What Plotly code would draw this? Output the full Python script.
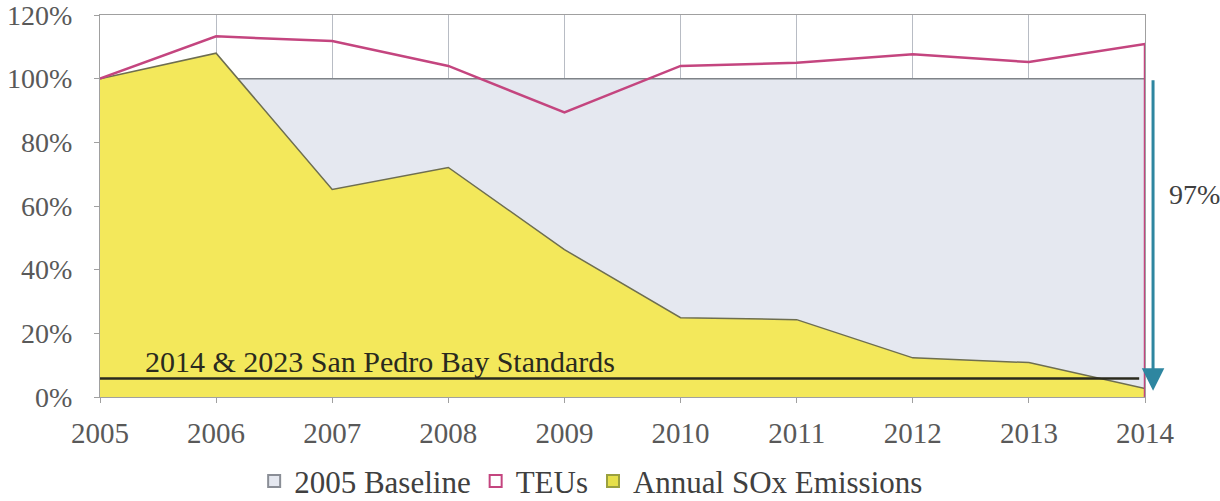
import plotly.graph_objects as go

years = [2005, 2006, 2007, 2008, 2009, 2010, 2011, 2012, 2013, 2014]
baseline = [100, 100, 100, 100, 100, 100, 100, 100, 100, 100]
teus = [100, 113.3, 111.8, 104.0, 89.4, 104.0, 105.0, 107.7, 105.2, 110.9]
sox = [100, 108.0, 65.2, 72.1, 46.3, 24.9, 24.3, 12.3, 10.8, 2.7]
standard = 5.8
standard_label = "2014 & 2023 San Pedro Bay Standards"
reduction_label = "97%"
y_ticks = [0, 20, 40, 60, 80, 100, 120]

FONT = "Liberation Serif"
C_BASE_FILL, C_BASE_LINE = "#E5E8F0", "#7F8388"
C_SOX_FILL, C_SOX_LINE = "#F3E85B", "#6E6E50"
C_TEU = "#C4457F"

fig = go.Figure()
fig.add_trace(go.Scatter(
    x=years, y=baseline, name="2005 Baseline", mode="lines", showlegend=False,
    fill="tozeroy", fillcolor=C_BASE_FILL, line=dict(color=C_BASE_LINE, width=1.5),
))
fig.add_trace(go.Scatter(
    x=years, y=sox, name="Annual SOx Emissions", mode="lines", showlegend=False,
    fill="tozeroy", fillcolor=C_SOX_FILL, line=dict(color=C_SOX_LINE, width=1.5),
))
fig.add_trace(go.Scatter(
    x=[years[0], years[-1] - 0.05], y=[standard, standard], mode="lines",
    showlegend=False, line=dict(color="#2A2A1E", width=2.5), hoverinfo="skip",
))
fig.add_trace(go.Scatter(
    x=years + [years[-1]], y=teus + [0], name="TEUs", mode="lines", showlegend=False,
    line=dict(color=C_TEU, width=2.5),
))

# legend entries (square swatches as in the original)
for name, fill, edge in [("2005 Baseline", C_BASE_FILL, "#8A8E96"),
                         ("TEUs", "rgba(255,255,255,0)", C_TEU),
                         ("Annual SOx Emissions", "#E6E04A", "#9AA040")]:
    fig.add_trace(go.Bar(x=[None], y=[None], name=name,
                         marker=dict(color=fill, line=dict(color=edge, width=2))))

fig.add_annotation(
    x=years[0] + 0.37, y=standard, text=standard_label, showarrow=False,
    xanchor="left", yanchor="bottom", yshift=-1,
    font=dict(family=FONT, size=30, color="#2A2A1E"),
)
fig.add_annotation(
    x=1.0077, xref="paper", y=2, yref="y", ax=0, axref="pixel", ay=100, ayref="y",
    showarrow=True, arrowhead=2, arrowsize=1.5, arrowwidth=3, arrowcolor="#2E86A0", text="",
)
fig.add_annotation(
    x=1.021, xref="paper", y=63.5, yref="y", text=reduction_label, showarrow=False, xanchor="left",
    font=dict(family=FONT, size=28, color="#404040"),
)

fig.update_layout(
    width=1220, height=501,
    margin=dict(l=100, r=75, t=15, b=104, autoexpand=False),
    paper_bgcolor="white", plot_bgcolor="white",
    font=dict(family=FONT, size=28, color="#595959"),
    legend=dict(orientation="h", x=0.47, xanchor="center", y=-0.15, yanchor="top",
                traceorder="normal", font=dict(family=FONT, size=31, color="#404040"),
                itemwidth=30),
    showlegend=True,
)
fig.update_xaxes(
    range=[2005, 2014], tickmode="array", tickvals=years, ticktext=[str(y) for y in years],
    showgrid=True, gridcolor="#B8BCC4", gridwidth=1,
    showline=True, linecolor="#A0A0A0", mirror=True,
    ticks="outside", ticklen=5, tickcolor="#A0A0A0", ticklabelstandoff=5,
    tickfont=dict(size=29), automargin=False, ticklabeloverflow="allow",
)
fig.update_yaxes(
    range=[0, 120], tickmode="array", tickvals=y_ticks, ticktext=[f"{v}%" for v in y_ticks],
    showgrid=True, gridcolor="#B8BCC4", gridwidth=1,
    showline=True, linecolor="#A0A0A0", mirror=True,
    ticks="outside", ticklen=5, tickcolor="#A0A0A0", zeroline=False,
    ticklabelstandoff=16, automargin=False, ticklabeloverflow="allow",
)

fig.write_html("out.html")
